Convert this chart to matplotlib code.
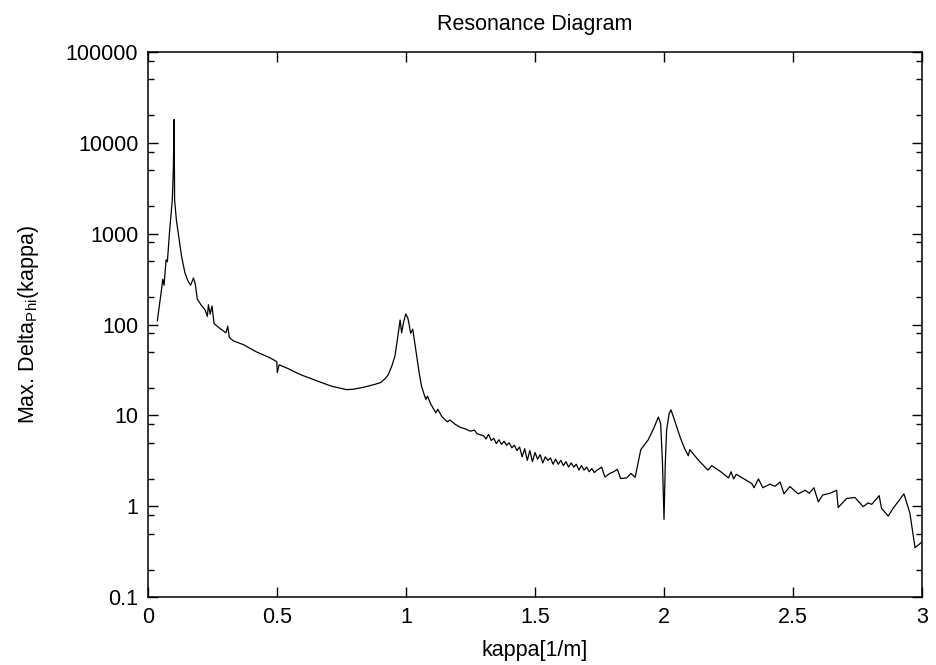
import matplotlib
matplotlib.use("Agg")
import matplotlib.pyplot as plt
from matplotlib.ticker import LogLocator, FixedLocator, NullFormatter

plt.rcParams["font.family"] = ["Liberation Sans", "DejaVu Sans"]
plt.rcParams["mathtext.fontset"] = "custom"
plt.rcParams["mathtext.rm"] = "Liberation Sans"

# values
kappa = [
    0.036, 0.045, 0.052, 0.057, 0.062, 0.070, 0.075, 0.083, 0.094, 0.098,
    0.101, 0.103, 0.110, 0.119, 0.130, 0.143, 0.155, 0.165, 0.176, 0.183,
    0.191, 0.205, 0.221, 0.230, 0.234, 0.241, 0.248, 0.256, 0.280, 0.302,
    0.309, 0.315, 0.331, 0.370, 0.420, 0.473, 0.499, 0.501, 0.508, 0.540,
    0.570, 0.598, 0.630, 0.673, 0.710, 0.750, 0.770, 0.796, 0.820, 0.848,
    0.880, 0.902, 0.920, 0.931, 0.945, 0.957, 0.967, 0.977, 0.983, 0.990,
    0.999, 1.007, 1.012, 1.018, 1.026, 1.035, 1.044, 1.052, 1.060, 1.070,
    1.077, 1.083, 1.095, 1.105, 1.116, 1.123, 1.140, 1.160, 1.170, 1.190,
    1.210, 1.230, 1.250, 1.265, 1.275, 1.290,
    1.30, 1.31, 1.32, 1.33, 1.34, 1.35, 1.36, 1.37, 1.38, 1.39,
    1.40, 1.41, 1.42, 1.43, 1.44, 1.45, 1.46, 1.47, 1.48, 1.49,
    1.50, 1.51, 1.52, 1.53, 1.54, 1.55, 1.56, 1.57, 1.58, 1.59,
    1.60, 1.61, 1.62, 1.63, 1.64, 1.65, 1.66, 1.67, 1.68, 1.69,
    1.70, 1.71, 1.72, 1.73, 1.74, 1.75,
    1.758, 1.771, 1.790, 1.805, 1.819, 1.832, 1.855, 1.872, 1.888, 1.910,
    1.939, 1.960, 1.978, 1.987, 1.994, 2.000, 2.005, 2.010, 2.020, 2.027,
    2.040, 2.062, 2.080, 2.094, 2.100, 2.130, 2.170, 2.185, 2.220, 2.250,
    2.260, 2.270, 2.280, 2.310, 2.340, 2.349, 2.366, 2.383, 2.410, 2.430,
    2.450, 2.465, 2.488, 2.520, 2.547, 2.563, 2.581, 2.598, 2.615, 2.643,
    2.669, 2.675, 2.708, 2.740, 2.772, 2.791, 2.805, 2.834, 2.843, 2.869,
    2.888, 2.930, 2.953, 2.973, 3.000,
]
delta_phi = [
    110, 170, 240, 316, 270, 515, 490, 1020, 2340, 5000,
    18000, 2340, 1400, 930, 560, 370, 300, 270, 325, 280,
    190, 165, 145, 123, 165, 130, 160, 102, 90, 81,
    96, 72, 66, 60, 50, 43, 39, 29.5, 36, 33,
    30, 27.6, 25.5, 23, 21, 19.8, 19.2, 19.4, 20.0, 20.8,
    22, 23, 25.5, 28, 35, 45, 70, 112, 81, 105,
    131, 118, 100, 80, 89, 60, 41, 28, 21, 17,
    15, 16.3, 13.5, 12, 10.7, 11.7, 9.6, 8.5, 8.9, 8.0,
    7.4, 7.1, 6.7, 6.9, 6.3, 6.1,
    6.0, 5.5, 6.2, 5.3, 5.6, 4.9, 5.4, 4.8, 5.2, 4.7,
    5.0, 4.4, 4.7, 4.1, 4.5, 3.5, 4.3, 3.2, 4.1, 3.1,
    3.9, 3.3, 3.7, 3.0, 3.5, 3.2, 3.4, 2.9, 3.3, 2.9,
    3.2, 2.8, 3.1, 2.7, 3.0, 2.7, 2.9, 2.5, 2.8, 2.5,
    2.7, 2.4, 2.6, 2.35, 2.5, 2.6,
    2.7, 2.1, 2.3, 2.4, 2.55, 2.02, 2.05, 2.3, 2.08, 4.2,
    5.4, 7.2, 9.6, 8.1, 3.0, 0.72, 3.0, 6.9, 10.5, 11.5,
    9.0, 5.8, 4.3, 3.6, 4.2, 3.3, 2.5, 2.8, 2.4, 2.05,
    2.4, 2.0, 2.25, 2.0, 1.78, 1.6, 2.0, 1.6, 1.75, 1.66,
    1.85, 1.37, 1.65, 1.37, 1.5, 1.39, 1.6, 1.12, 1.33, 1.39,
    1.5, 0.97, 1.22, 1.25, 0.99, 1.09, 1.05, 1.31, 0.95, 0.78,
    0.95, 1.37, 0.84, 0.35, 0.405,
]
x_ticks = [0, 0.5, 1, 1.5, 2, 2.5, 3]
x_tick_labels = ["0", "0.5", "1", "1.5", "2", "2.5", "3"]
y_ticks = [0.1, 1, 10, 100, 1000, 10000, 100000]
y_tick_labels = ["0.1", "1", "10", "100", "1000", "10000", "100000"]

fig = plt.figure(figsize=(9.37, 6.65), dpi=100)
ax = fig.add_axes([0.158, 0.102, 0.826, 0.820])

ax.plot(kappa, delta_phi, color="black", linewidth=0.9)

ax.set_yscale("log")
ax.set_xlim(0, 3)
ax.set_ylim(0.1, 100000)
ax.set_xticks(x_ticks)
ax.set_xticklabels(x_tick_labels)
ax.yaxis.set_major_locator(FixedLocator(y_ticks))
ax.set_yticklabels(y_tick_labels)
ax.yaxis.set_minor_locator(LogLocator(base=10, subs=(2, 5, 8)))
ax.yaxis.set_minor_formatter(NullFormatter())
ax.xaxis.set_minor_locator(FixedLocator([]))

fs = 15.5
ax.tick_params(which="both", direction="in", top=True, right=True, labelsize=fs, width=1)
ax.tick_params(axis="x", which="major", length=7, pad=7)
ax.tick_params(axis="y", which="major", length=7, pad=7)
ax.tick_params(which="minor", length=4)
for s in ax.spines.values():
    s.set_linewidth(1.1)

ax.set_title("Resonance Diagram", fontsize=fs, pad=16)
ax.set_xlabel("kappa[1/m]", fontsize=fs, labelpad=9)
ax.set_ylabel("Max. Delta$_{\\mathrm{Phi}}$(kappa)", fontsize=fs, labelpad=18)

fig.savefig("out.png", dpi=100)
plt.close(fig)
